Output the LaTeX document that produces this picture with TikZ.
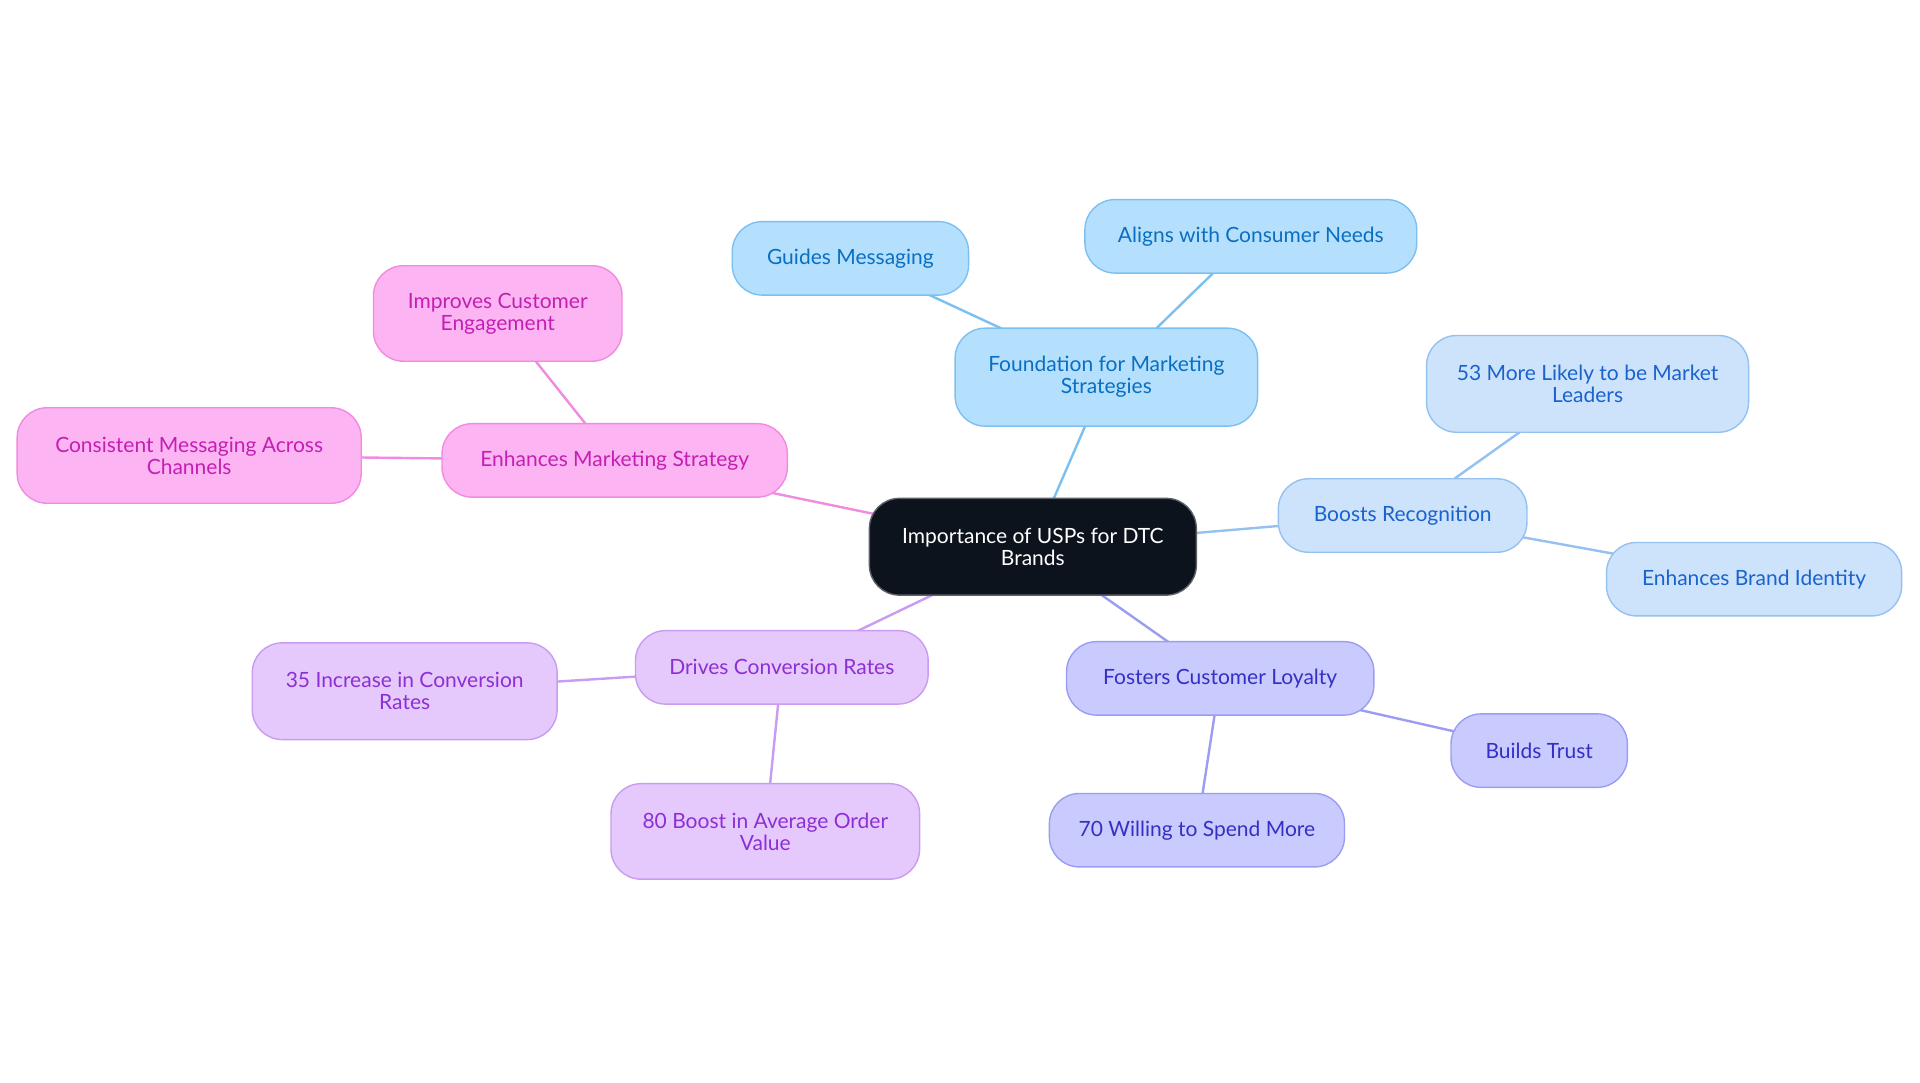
\documentclass[tikz,border=0pt]{standalone}
\usepackage{fontspec}
\setmainfont{Lato}
\usetikzlibrary{backgrounds}
\definecolor{cfill}{HTML}{0D131D}\definecolor{cdraw}{HTML}{5C6067}
\definecolor{bfill}{HTML}{B4E0FD}\definecolor{bdraw}{HTML}{7CC0F2}\definecolor{btext}{HTML}{0A6FC2}
\definecolor{rfill}{HTML}{CDE3FB}\definecolor{rdraw}{HTML}{95C1F0}\definecolor{rtext}{HTML}{1A62CC}
\definecolor{lfill}{HTML}{C9CAFE}\definecolor{ldraw}{HTML}{9B9DF2}\definecolor{ltext}{HTML}{3530C4}
\definecolor{pfill}{HTML}{E6C9FC}\definecolor{pdraw}{HTML}{C99CF2}\definecolor{ptext}{HTML}{8C2FD4}
\definecolor{mfill}{HTML}{FDB4F3}\definecolor{mdraw}{HTML}{F08BE1}\definecolor{mtext}{HTML}{C41FB3}
\tikzset{
  bx/.style 2 args={rectangle, rounded corners=30pt, inner sep=0pt, align=center,
    minimum width=#1*1.22449pt, minimum height=#2*1.22449pt, line width=1.4pt,
    font=\fontsize{21}{22}\selectfont},
  cnode/.style={fill=cfill, draw=cdraw, text=white},
  bnode/.style={fill=bfill, draw=bdraw, text=btext},
  rnode/.style={fill=rfill, draw=rdraw, text=rtext},
  lnode/.style={fill=lfill, draw=ldraw, text=ltext},
  pnode/.style={fill=pfill, draw=pdraw, text=ptext},
  mnode/.style={fill=mfill, draw=mdraw, text=mtext},
  edge/.style={line width=2.4pt, draw=#1},
}
\begin{document}
\begin{tikzpicture}[x=1.22449pt, y=-1.22449pt]
\path[use as bounding box] (0,0) rectangle (1568,884.45);
% nodes
\node[bx={267}{79}, cnode] (c) at (843.5,446.5) {Importance of USPs for DTC\\Brands};
\node[bx={247}{80}, bnode] (f) at (903.5,308) {Foundation for Marketing\\Strategies};
\node[bx={193}{60}, bnode] (g) at (694.5,211) {Guides Messaging};
\node[bx={271}{60}, bnode] (a) at (1021.5,193) {Aligns with Consumer Needs};
\node[bx={203}{60}, rnode] (r) at (1145.5,421) {Boosts Recognition};
\node[bx={263}{79}, rnode] (m) at (1296.5,313.5) {53 More Likely to be Market\\Leaders};
\node[bx={241}{60}, rnode] (e) at (1432.5,473) {Enhances Brand Identity};
\node[bx={251}{60}, lnode] (l) at (996.5,554) {Fosters Customer Loyalty};
\node[bx={144}{60}, lnode] (t) at (1257,613) {Builds Trust};
\node[bx={241}{60}, lnode] (w) at (977.5,678) {70 Willing to Spend More};
\node[bx={239}{60}, pnode] (d) at (638.5,545) {Drives Conversion Rates};
\node[bx={249}{79}, pnode] (i) at (330.5,564.5) {35 Increase in Conversion\\Rates};
\node[bx={252}{78}, pnode] (o) at (625,679) {80 Boost in Average Order\\Value};
\node[bx={282}{60}, mnode] (s) at (502,376) {Enhances Marketing Strategy};
\node[bx={203}{78}, mnode] (p) at (406.5,256) {Improves Customer\\Engagement};
\node[bx={281}{78}, mnode] (n) at (154.5,372) {Consistent Messaging Across\\Channels};
% edges, behind the nodes
\begin{scope}[on background layer]
\fill[white] (0,0) rectangle (1568,884.45);
\draw[edge=bdraw] (c.center) -- (f.center);
\draw[edge=bdraw] (f.center) -- (g.center);
\draw[edge=bdraw] (f.center) -- (a.center);
\draw[edge=rdraw] (c.center) -- (r.center);
\draw[edge=rdraw] (r.center) -- (m.center);
\draw[edge=rdraw] (r.center) -- (e.center);
\draw[edge=ldraw] (c.center) -- (l.center);
\draw[edge=ldraw] (l.center) -- (t.center);
\draw[edge=ldraw] (l.center) -- (w.center);
\draw[edge=pdraw] (c.center) -- (d.center);
\draw[edge=pdraw] (d.center) -- (i.center);
\draw[edge=pdraw] (d.center) -- (o.center);
\draw[edge=mdraw] (c.center) -- (s.center);
\draw[edge=mdraw] (s.center) -- (p.center);
\draw[edge=mdraw] (s.center) -- (n.center);
\end{scope}
\end{tikzpicture}
\end{document}
